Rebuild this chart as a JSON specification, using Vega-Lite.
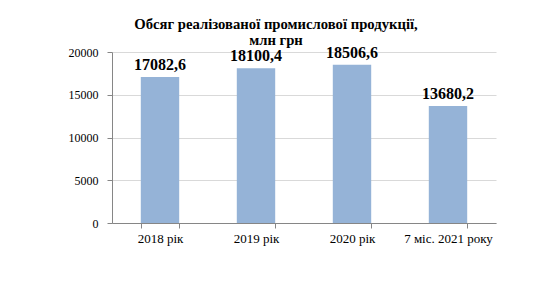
{
  "$schema": "https://vega.github.io/schema/vega-lite/v6.json",
  "width": 384,
  "height": 171,
  "autosize": {"type": "none"},
  "padding": {"left": 112, "top": 52, "right": 63, "bottom": 60},
  "background": "white",
  "config": {
    "locale": {"number": {"decimal": ",", "thousands": "", "grouping": [3], "currency": ["", ""]}},
    "view": {"stroke": null},
    "font": "Liberation Serif"
  },
  "title": {
    "text": ["Обсяг реалізованої промислової продукції,", "млн грн"],
    "font": "Liberation Serif",
    "fontSize": 14.7,
    "fontWeight": "bold",
    "lineHeight": 16,
    "color": "black",
    "anchor": "middle",
    "dx": -28,
    "offset": -3
  },
  "data": {
    "values": [
      {"period": "2018 рік", "value": 17082.6},
      {"period": "2019 рік", "value": 18100.4},
      {"period": "2020 рік", "value": 18506.6},
      {"period": "7 міс. 2021 року", "value": 13680.2}
    ]
  },
  "encoding": {
    "x": {
      "field": "period",
      "type": "nominal",
      "sort": null,
      "scale": {"paddingInner": 0.6, "paddingOuter": 0.3},
      "axis": {
        "title": null,
        "labelAngle": 0,
        "labelFont": "Liberation Serif",
        "labelFontSize": 13,
        "labelColor": "black",
        "labelPadding": 4,
        "tickBand": "extent",
        "tickSize": 5,
        "tickColor": "#868686",
        "domainColor": "#868686",
        "grid": false
      }
    },
    "y": {
      "field": "value",
      "type": "quantitative",
      "scale": {"domain": [0, 20000]},
      "axis": {
        "title": null,
        "values": [0, 5000, 10000, 15000, 20000],
        "format": "d",
        "labelFont": "Liberation Serif",
        "labelFontSize": 12,
        "labelColor": "black",
        "labelPadding": 9,
        "tickSize": 5,
        "tickColor": "#868686",
        "domainColor": "#868686",
        "grid": true,
        "gridColor": "#d9d9d9"
      }
    }
  },
  "layer": [
    {"mark": {"type": "bar", "color": "#95b3d7"}},
    {
      "mark": {"type": "text", "baseline": "alphabetic", "dy": -7, "font": "Liberation Serif", "fontSize": 16, "fontWeight": "bold", "color": "black"},
      "encoding": {"text": {"field": "value", "type": "quantitative", "format": ".1f"}}
    }
  ]
}
